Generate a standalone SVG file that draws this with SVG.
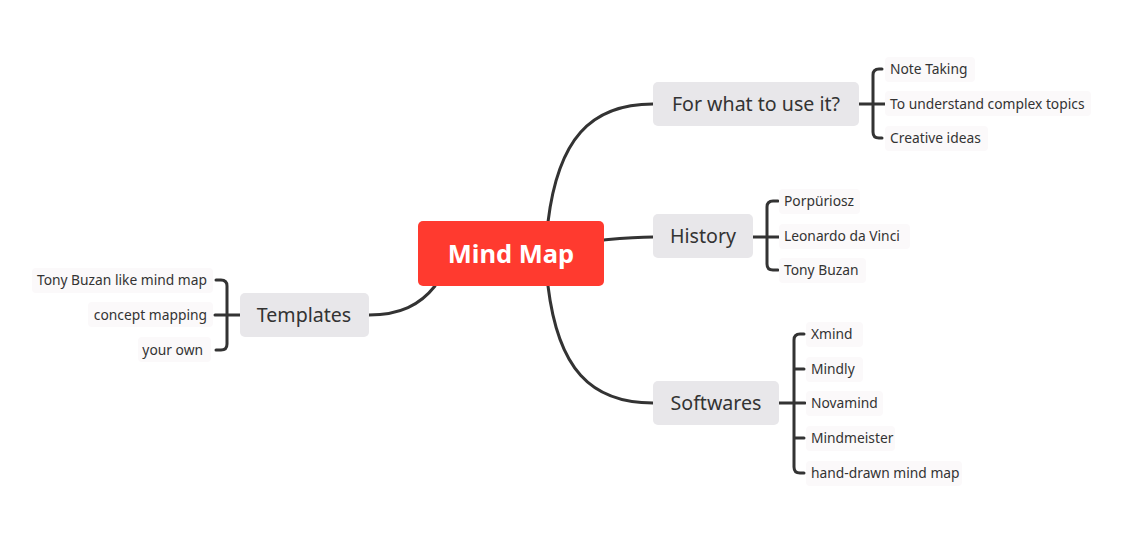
<svg xmlns="http://www.w3.org/2000/svg" width="1137" height="544" viewBox="0 0 1137 544">
<style>
.main{fill:#E8E7EA}
.sub{fill:#FBF9FA}
.mt{font-family:"Noto Sans","Open Sans",sans-serif;font-size:19.6px;fill:#333333}
.st{font-family:"Noto Sans","Open Sans",sans-serif;font-size:13.8px;fill:#333333}
.ln{fill:none;stroke:#333333;stroke-width:3;stroke-linecap:round}
</style>
<rect width="1137" height="544" fill="#FFFFFF"/>
<g id="connectors">
<path class="ln" d="M548,222 C558,140 590,104 653,104"/>
<path class="ln" d="M604,240 C625,238 635,237 653,237"/>
<path class="ln" d="M548,286 C558,368 590,403 653,403"/>
<path class="ln" d="M435,286 C420,305 400,315 369,315"/>
<path class="ln" d="M859,104 H885 M882,69 H879 Q873,69 873,75 V132 Q873,138 879,138 H882"/>
<path class="ln" d="M753,237 H780 M778,201 H773 Q767,201 767,207 V264 Q767,270 773,270 H778"/>
<path class="ln" d="M779,403 H805 M804,334 H800 Q794,334 794,340 V467 Q794,473 800,473 H804 M794,369 H804 M794,438 H804"/>
<path class="ln" d="M240,315 H215 M216,280 H221 Q227,280 227,286 V344 Q227,350 221,350 H216"/>
</g>
<g id="central">
<rect x="418" y="221" width="186" height="65" rx="5" fill="#FF3A2F"/>
<text x="511" y="263" text-anchor="middle" font-family="Noto Sans,Open Sans,sans-serif" font-size="25.5" font-weight="bold" fill="#FFFFFF">Mind Map</text>
</g>
<g id="for-what">
<rect class="main" x="653" y="82" width="206" height="44" rx="5"/>
<text class="mt" x="756" y="111" text-anchor="middle">For what to use it?</text>
</g>
<g id="history">
<rect class="main" x="653" y="214" width="100" height="44" rx="5"/>
<text class="mt" x="703" y="243" text-anchor="middle">History</text>
</g>
<g id="softwares">
<rect class="main" x="653" y="381" width="126" height="44" rx="5"/>
<text class="mt" x="716" y="410" text-anchor="middle">Softwares</text>
</g>
<g id="templates">
<rect class="main" x="240" y="293" width="129" height="44" rx="5"/>
<text class="mt" x="304" y="322" text-anchor="middle">Templates</text>
</g>
<g id="note-taking"><rect class="sub" x="885" y="57" width="90" height="25" rx="4"/><text class="st" x="890" y="74">Note Taking</text></g>
<g id="understand"><rect class="sub" x="885" y="91" width="206" height="25" rx="4"/><text class="st" x="890" y="109">To understand complex topics</text></g>
<g id="creative"><rect class="sub" x="885" y="126" width="103" height="25" rx="4"/><text class="st" x="890" y="143">Creative ideas</text></g>
<g id="porpuriosz"><rect class="sub" x="779" y="189" width="81" height="25" rx="4"/><text class="st" x="784" y="206">Porpüriosz</text></g>
<g id="leonardo"><rect class="sub" x="779" y="224" width="131" height="25" rx="4"/><text class="st" x="784" y="241">Leonardo da Vinci</text></g>
<g id="tony-buzan"><rect class="sub" x="779" y="258" width="87" height="25" rx="4"/><text class="st" x="784" y="275">Tony Buzan</text></g>
<g id="xmind"><rect class="sub" x="806" y="322" width="57" height="25" rx="4"/><text class="st" x="811" y="339">Xmind</text></g>
<g id="mindly"><rect class="sub" x="806" y="357" width="57" height="25" rx="4"/><text class="st" x="811" y="374">Mindly</text></g>
<g id="novamind"><rect class="sub" x="806" y="391" width="77" height="25" rx="4"/><text class="st" x="811" y="408">Novamind</text></g>
<g id="mindmeister"><rect class="sub" x="806" y="426" width="89" height="25" rx="4"/><text class="st" x="811" y="443">Mindmeister</text></g>
<g id="hand-drawn"><rect class="sub" x="806" y="461" width="156" height="25" rx="4"/><text class="st" x="811" y="478">hand-drawn mind map</text></g>
<g id="tony-like"><rect class="sub" x="32" y="268" width="181" height="25" rx="4"/><text class="st" x="207" y="285" text-anchor="end">Tony Buzan like mind map</text></g>
<g id="concept"><rect class="sub" x="88" y="302" width="125" height="25" rx="4"/><text class="st" x="207" y="320" text-anchor="end">concept mapping</text></g>
<g id="your-own"><rect class="sub" x="138" y="337" width="73" height="25" rx="4"/><text class="st" x="203" y="355" text-anchor="end">your own</text></g>
</svg>
